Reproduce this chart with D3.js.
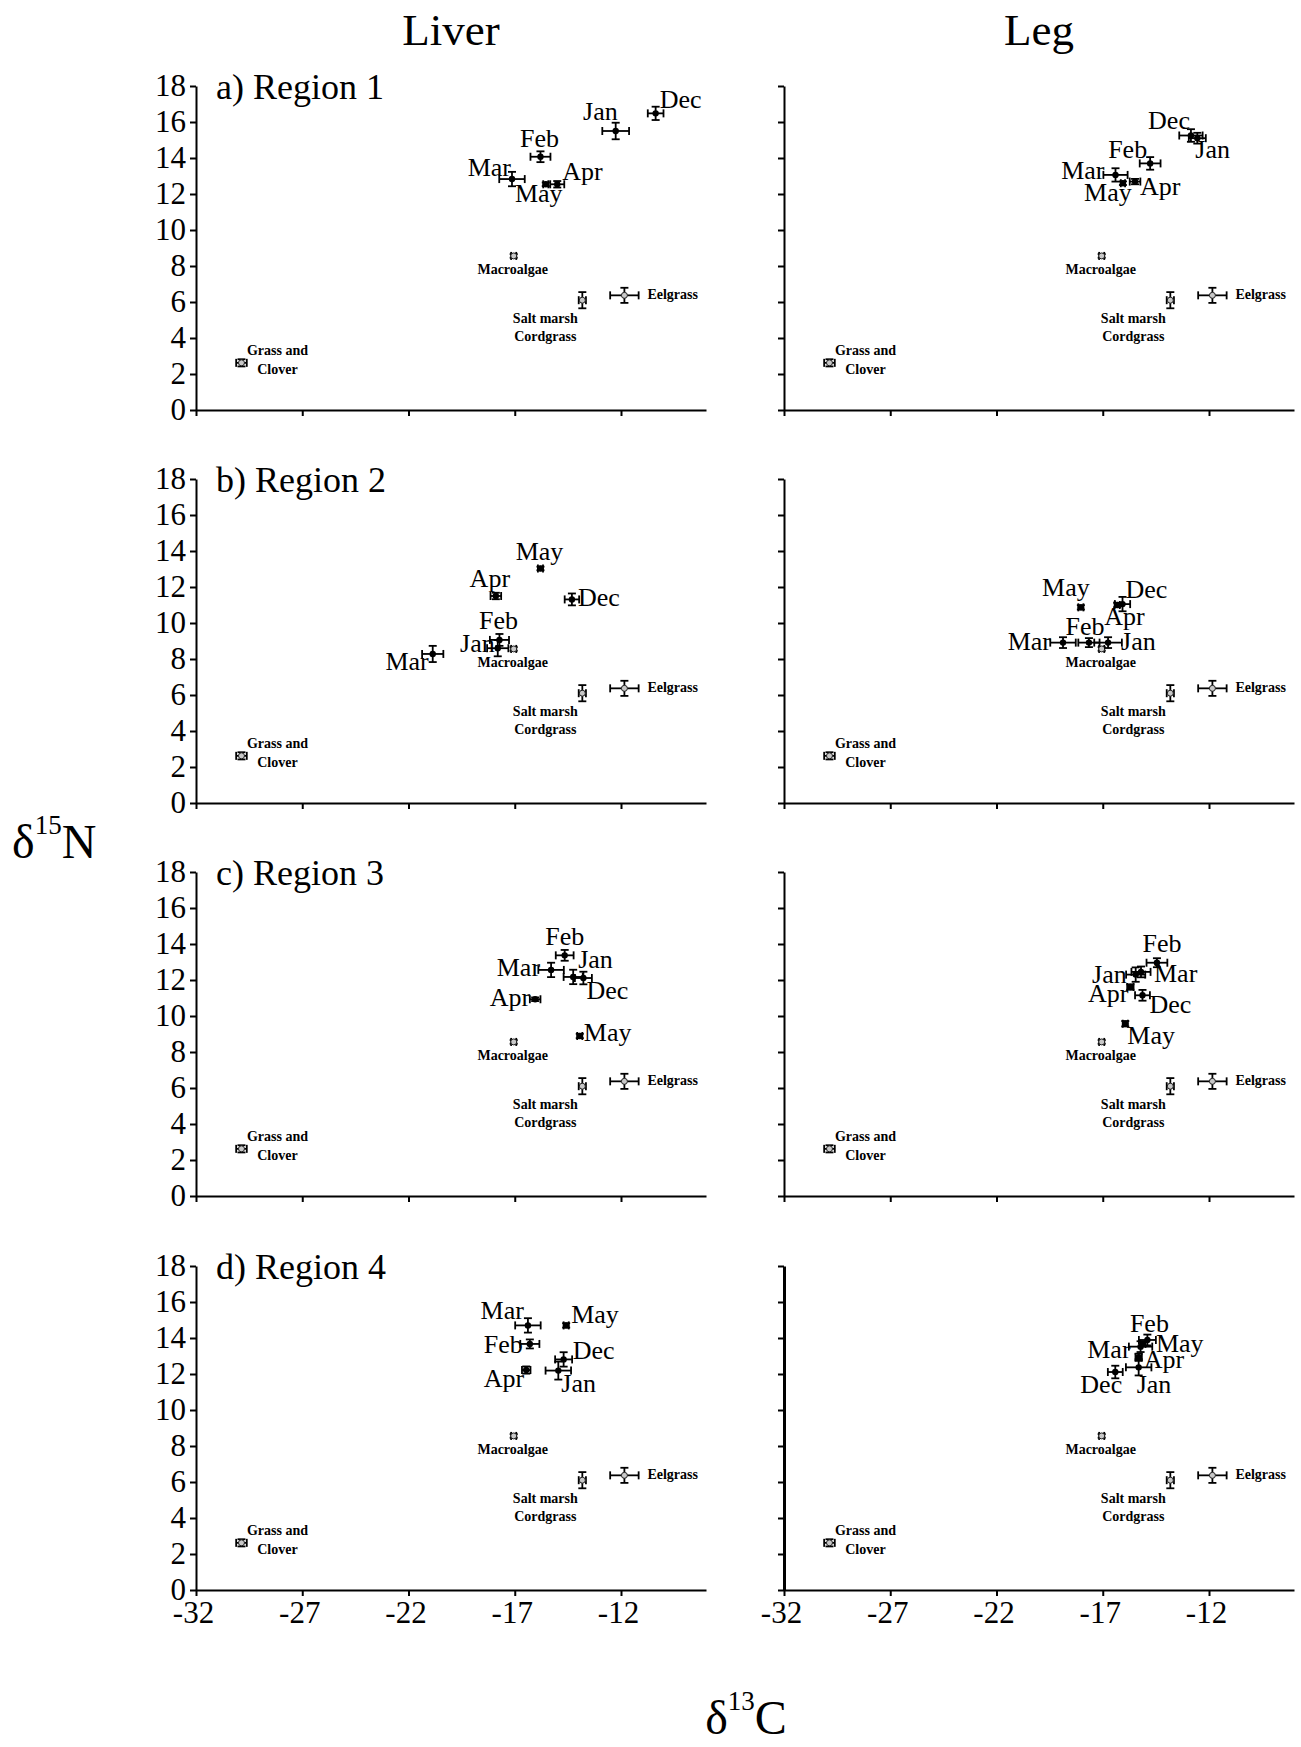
<!DOCTYPE html>
<html><head><meta charset="utf-8">
<script src="https://cdn.jsdelivr.net/npm/d3@7"></script>
<style>
body{margin:0;background:#fff;}
svg text{font-family:"Liberation Serif","Times New Roman",serif;fill:#000;}
</style></head><body>
<svg id="chart" width="1301" height="1747"></svg>
<script>
// ---------------- DATA ----------------
const columnTitles = ["Liver", "Leg"];
const regionTitles = ["a) Region 1", "b) Region 2", "c) Region 3", "d) Region 4"];
const xDomain = [-32, -8];
const yDomain = [0, 18];
const xTicks = [-32, -27, -22, -17, -12];
const yTicks = [0, 2, 4, 6, 8, 10, 12, 14, 16, 18];
const xTitle = ["δ", "13", "C"];
const yTitle = ["δ", "15", "N"];

// [name, d13C, d15N, d13C error, d15N error]
const sources = [
  ["Grass and Clover", -29.86, 2.62, 0.25, 0.20],
  ["Macroalgae", -17.05, 8.56, 0.12, 0.10],
  ["Salt marsh Cordgrass", -13.82, 6.10, 0.17, 0.45],
  ["Eelgrass", -11.84, 6.37, 0.67, 0.42]
];

// [month, d13C, d15N, d13C error, d15N error]
const liverRegion1 = [
  ["Dec", -10.37, 16.48, 0.37, 0.37],
  ["Jan", -12.25, 15.50, 0.63, 0.46],
  ["Feb", -15.79, 14.07, 0.47, 0.30],
  ["Mar", -17.13, 12.83, 0.60, 0.40],
  ["Apr", -15.00, 12.54, 0.33, 0.18],
  ["May", -15.54, 12.54, 0.12, 0.10]
];
const legRegion1 = [
  ["Dec", -12.85, 15.25, 0.55, 0.35],
  ["Jan", -12.55, 15.10, 0.40, 0.30],
  ["Feb", -14.77, 13.70, 0.49, 0.35],
  ["Mar", -16.40, 13.06, 0.57, 0.37],
  ["Apr", -15.48, 12.69, 0.25, 0.15],
  ["May", -16.05, 12.60, 0.10, 0.10]
];
const liverRegion2 = [
  ["Dec", -14.31, 11.31, 0.34, 0.33],
  ["Jan", -17.80, 8.60, 0.50, 0.45],
  ["Feb", -17.72, 9.06, 0.45, 0.33],
  ["Mar", -20.86, 8.28, 0.50, 0.45],
  ["Apr", -17.89, 11.50, 0.25, 0.18],
  ["May", -15.79, 13.03, 0.12, 0.10]
];
const legRegion2 = [
  ["Dec", -16.07, 11.05, 0.36, 0.40],
  ["Jan", -16.75, 8.91, 0.65, 0.30],
  ["Feb", -17.65, 8.91, 0.50, 0.25],
  ["Mar", -18.87, 8.91, 0.60, 0.30],
  ["Apr", -16.32, 11.00, 0.12, 0.12],
  ["May", -18.03, 10.87, 0.12, 0.12]
];
const liverRegion3 = [
  ["Dec", -13.77, 12.11, 0.40, 0.35],
  ["Jan", -14.25, 12.17, 0.45, 0.40],
  ["Feb", -14.65, 13.37, 0.42, 0.30],
  ["Mar", -15.29, 12.56, 0.60, 0.40],
  ["Apr", -16.04, 10.93, 0.25, 0.10],
  ["May", -13.94, 8.89, 0.12, 0.12]
];
const legRegion3 = [
  ["Dec", -15.13, 11.15, 0.35, 0.30],
  ["Jan", -15.45, 12.30, 0.45, 0.40],
  ["Feb", -14.45, 12.96, 0.49, 0.25],
  ["Mar", -15.20, 12.45, 0.45, 0.30],
  ["Apr", -15.70, 11.61, 0.15, 0.15],
  ["May", -15.94, 9.57, 0.12, 0.15]
];
const liverRegion4 = [
  ["Dec", -14.70, 12.81, 0.40, 0.40],
  ["Jan", -14.95, 12.19, 0.60, 0.50],
  ["Feb", -16.29, 13.67, 0.45, 0.25],
  ["Mar", -16.38, 14.70, 0.60, 0.40],
  ["Apr", -16.46, 12.22, 0.20, 0.20],
  ["May", -14.58, 14.70, 0.12, 0.12]
];
const legRegion4 = [
  ["Dec", -16.41, 12.11, 0.35, 0.35],
  ["Jan", -15.31, 12.37, 0.60, 0.45],
  ["Feb", -14.90, 13.89, 0.40, 0.30],
  ["Mar", -15.22, 13.52, 0.55, 0.30],
  ["Apr", -15.31, 12.93, 0.15, 0.20],
  ["May", -15.11, 13.67, 0.12, 0.12]
];

// ---------------- LABEL PLACEMENT (layout only) ----------------
// [month, anchor, dx px, dy px]
const liverRegion1Labels = [["Dec","start",4,-5],["Jan","end",2,-11],["Feb","middle",-1,-10],["Mar","end",-1,-3],["Apr","start",5,-4],["May","middle",-7,18]];
const legRegion1Labels   = [["Dec","end",-1,-7],["Jan","start",-2,20],["Feb","end",-3,-5],["Mar","end",-11,4],["Apr","start",5,13],["May","middle",-15,18]];
const liverRegion2Labels = [["Dec","start",6,7],["Jan","end",-3,4],["Feb","middle",-1,-11],["Mar","end",-4,16],["Apr","middle",-6,-9],["May","middle",-1,-8]];
const legRegion2Labels   = [["Dec","start",3,-6],["Jan","start",13,7],["Feb","middle",-4,-8],["Mar","end",-12,7],["Apr","start",-13,20],["May","middle",-15,-11]];
const liverRegion3Labels = [["Dec","start",3,21],["Jan","start",5,-9],["Feb","middle",0,-10],["Mar","end",-11,6],["Apr","end",-5,7],["May","start",4,5]];
const legRegion3Labels   = [["Dec","start",7,18],["Jan","end",-9,8],["Feb","middle",5,-11],["Mar","start",13,10],["Apr","end",-2,15],["May","start",2,20]];
const liverRegion4Labels = [["Dec","start",9,0],["Jan","start",3,21],["Feb","end",-7,9],["Mar","end",-4,-6],["Apr","end",-2,17],["May","start",5,-2]];
const legRegion4Labels   = [["Dec","middle",-14,21],["Jan","start",-2,26],["Feb","middle",2,-8],["Mar","end",-10,11],["Apr","start",5,11],["May","start",13,8]];
// source label lines: [source, line text, anchor, dx, dy]
const sourceLabels = [
  ["Grass and Clover","Grass and","middle",36,-8],
  ["Grass and Clover","Clover","middle",36,11],
  ["Macroalgae","Macroalgae","middle",-1,18],
  ["Salt marsh Cordgrass","Salt marsh","middle",-37,23],
  ["Salt marsh Cordgrass","Cordgrass","middle",-37,41],
  ["Eelgrass","Eelgrass","start",23,4]
];

const panels = [
  {row:0,col:0,data:liverRegion1,labels:liverRegion1Labels},
  {row:0,col:1,data:legRegion1,labels:legRegion1Labels},
  {row:1,col:0,data:liverRegion2,labels:liverRegion2Labels},
  {row:1,col:1,data:legRegion2,labels:legRegion2Labels},
  {row:2,col:0,data:liverRegion3,labels:liverRegion3Labels},
  {row:2,col:1,data:legRegion3,labels:legRegion3Labels},
  {row:3,col:0,data:liverRegion4,labels:liverRegion4Labels},
  {row:3,col:1,data:legRegion4,labels:legRegion4Labels}
];

// ---------------- DRAW ----------------
const svg = d3.select("#chart");
const panelW = 510, panelH = 324;
const colX0 = [196, 784];
const rowY0 = [86, 479, 872, 1266];
const x = d3.scaleLinear().domain(xDomain).range([0, panelW]);
const y = d3.scaleLinear().domain(yDomain).range([panelH, 0]);
const cap = 4;

function drawErr(g, rows, cls) {
  const eg = g.append("g").attr("class", cls)
    .attr("stroke", "#000").attr("stroke-width", 1.8).attr("fill", "none");
  rows.forEach(r => {
    const cx = x(r[1]), cy = y(r[2]);
    const x1 = x(r[1] - r[3]), x2 = x(r[1] + r[3]);
    const y1 = y(r[2] - r[4]), y2 = y(r[2] + r[4]);
    eg.append("line").attr("x1", x1).attr("x2", x2).attr("y1", cy).attr("y2", cy);
    eg.append("line").attr("x1", x1).attr("x2", x1).attr("y1", cy - cap).attr("y2", cy + cap);
    eg.append("line").attr("x1", x2).attr("x2", x2).attr("y1", cy - cap).attr("y2", cy + cap);
    eg.append("line").attr("x1", cx).attr("x2", cx).attr("y1", y1).attr("y2", y2);
    eg.append("line").attr("x1", cx - cap).attr("x2", cx + cap).attr("y1", y1).attr("y2", y1);
    eg.append("line").attr("x1", cx - cap).attr("x2", cx + cap).attr("y1", y2).attr("y2", y2);
  });
}

panels.forEach(p => {
  const g = svg.append("g").attr("transform", `translate(${colX0[p.col]},${rowY0[p.row]})`);

  const xa = d3.axisBottom(x).tickValues(xTicks).tickSize(6).tickSizeOuter(0).tickPadding(5);
  if (p.row === 3) xa.tickFormat(d => String(d));
  else xa.tickFormat("");
  const gx = g.append("g").attr("transform", `translate(0,${panelH})`).call(xa);
  gx.attr("font-size", 31).attr("font-family", "Liberation Serif");
  gx.selectAll(".tick text").attr("dx", -3);

  const ya = d3.axisLeft(y).tickValues(yTicks).tickSize(6).tickSizeOuter(0).tickPadding(4);
  if (p.col !== 0) ya.tickFormat("");
  const gy = g.append("g").call(ya);
  gy.attr("font-size", 31).attr("font-family", "Liberation Serif");

  [gx, gy].forEach(a => {
    a.select(".domain").attr("stroke", "#000").attr("stroke-width", 2);
    a.selectAll(".tick line").attr("stroke", "#000").attr("stroke-width", 2);
    a.selectAll(".tick text").attr("fill", "#000");
  });
  if (p.col === 1 && p.row === 3) gy.select(".domain").attr("stroke-width", 3);

  if (p.col === 0) {
    g.append("text").attr("x", 20).attr("y", 13)
      .attr("font-size", 36).text(regionTitles[p.row]);
  }

  // sources
  drawErr(g, sources, "src-err");
  g.append("g").selectAll("circle").data(sources).join("circle")
    .attr("cx", d => x(d[1])).attr("cy", d => y(d[2])).attr("r", 3)
    .attr("fill", "#c8c8c8").attr("stroke", "#222").attr("stroke-width", 1);
  g.append("g").selectAll("text").data(sourceLabels).join("text")
    .attr("x", d => { const s = sources.find(q => q[0] === d[0]); return x(s[1]) + d[3]; })
    .attr("y", d => { const s = sources.find(q => q[0] === d[0]); return y(s[2]) + d[4]; })
    .attr("text-anchor", d => d[2])
    .attr("font-size", 14).attr("font-weight", "bold")
    .text(d => d[1]);

  // months
  drawErr(g, p.data, "month-err");
  g.append("g").selectAll("circle").data(p.data).join("circle")
    .attr("cx", d => x(d[1])).attr("cy", d => y(d[2])).attr("r", 3.2)
    .attr("fill", "#000");
  g.append("g").selectAll("text").data(p.labels).join("text")
    .attr("x", d => { const r = p.data.find(q => q[0] === d[0]); return x(r[1]) + d[2]; })
    .attr("y", d => { const r = p.data.find(q => q[0] === d[0]); return y(r[2]) + d[3]; })
    .attr("text-anchor", d => d[1])
    .attr("font-size", 26)
    .text(d => d[0]);
});

// column titles
svg.selectAll("text.coltitle").data(columnTitles).join("text").attr("class", "coltitle")
  .attr("x", (d, i) => colX0[i] + panelW / 2).attr("y", 45)
  .attr("text-anchor", "middle").attr("font-size", 45).text(d => d);

// axis titles
function titleText(parts, xpos, ypos, anchor) {
  const t = svg.append("text").attr("x", xpos).attr("y", ypos)
    .attr("text-anchor", anchor).attr("font-size", 48);
  t.append("tspan").text(parts[0]);
  t.append("tspan").attr("font-size", 27).attr("dy", -24).text(parts[1]);
  t.append("tspan").attr("dy", 24).text(parts[2]);
}
titleText(yTitle, 12, 858, "start");
titleText(xTitle, 746, 1734, "middle");
</script>
</body></html>
